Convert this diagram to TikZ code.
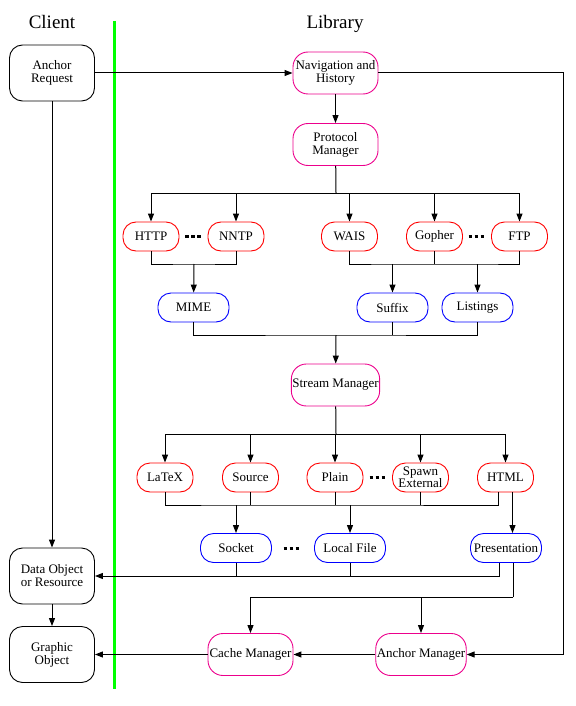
\documentclass[tikz,border=0pt]{standalone}
\usepackage{fontspec}
\setmainfont{Liberation Serif}
\newfontfamily\diagfont{Liberation Serif}
\usepackage{tikz}
\usetikzlibrary{arrows.meta, positioning}

\begin{document}
\begin{tikzpicture}[x=1pt, y=-1pt,
    clientblock/.style={rectangle, draw, line width=0.9pt, rounded corners=13pt, minimum width=85pt, minimum height=56pt, inner sep=1pt, font=\diagfont\fontsize{13}{13}\selectfont, align=center},
    managerblock/.style={rectangle, draw=magenta, line width=0.9pt, rounded corners=15pt, minimum width=85pt, minimum height=42pt, inner sep=1pt, font=\diagfont\fontsize{13}{13}\selectfont, align=center},
    formatblock/.style={rectangle, draw=red, line width=0.9pt, rounded corners=13pt, minimum width=56pt, minimum height=29pt, inner sep=1pt, font=\diagfont\fontsize{13}{12}\selectfont, align=center},
    streamblock/.style={rectangle, draw=blue, line width=0.9pt, rounded corners=13pt, minimum width=71pt, minimum height=29pt, inner sep=1pt, font=\diagfont\fontsize{13}{12}\selectfont, align=center},
    gapmark/.style={minimum width=17pt, minimum height=3pt, inner sep=0pt, path picture={\draw[line width=3pt, dash pattern=on 3.5pt off 2.5pt] (path picture bounding box.west) -- (path picture bounding box.east);}},
    title/.style={font=\diagfont\fontsize{19}{19}\selectfont},
    arrow/.style={-{Triangle[length=8pt, width=6pt]}, line width=1pt},
    line/.style={line width=1pt}
]
\useasboundingbox (0,0) rectangle (575,706);

% Column titles and the divider
\node[title] (client) at (52,22) {Client};
\node[title] (library) at (335,24) {Library};
\draw[green, line width=3pt] (114,21) -- (114,689);

% Client side
\node[clientblock] (areq) at (52,73) {Anchor\\Request};
\node[clientblock] (dobj) at (52,576) {Data Object\\or Resource};
\node[clientblock] (gobj) at (52,654.5) {Graphic\\Object};

% Managers
\node[managerblock] (nav) at (335.5,73) {Navigation and\\History};
\node[managerblock] (proto) at (335.5,144.5) {Protocol\\Manager};
\node[managerblock] (stream) at (335.5,385) {Stream Manager};
\node[managerblock] (cmgr) at (250.5,654.5) {Cache Manager};
\node[managerblock] (amgr) at (421,654.5) {Anchor Manager};

% Protocols
\node[formatblock] (http) at (151,236.5) {HTTP};
\node[formatblock] (nntp) at (236,236.5) {NNTP};
\node[formatblock] (wais) at (349.5,236.5) {WAIS};
\node[formatblock] (gopher) at (434.5,236.5) {Gopher};
\node[formatblock] (ftp) at (519.5,236.5) {FTP};
\node[gapmark] (gap1) at (193.5,236) {};
\node[gapmark] (gap2) at (477,236) {};

% Format recognition
\node[streamblock] (mime) at (193.5,307.5) {MIME};
\node[streamblock] (suffix) at (392.5,307.5) {Suffix};
\node[streamblock] (listings) at (477.5,307.5) {Listings};

% Converters
\node[formatblock] (latex) at (165,477.5) {LaTeX};
\node[formatblock] (source) at (250.5,477.5) {Source};
\node[formatblock] (plain) at (335,477.5) {Plain};
\node[formatblock] (spawn) at (420.5,477.5) {Spawn\\External};
\node[formatblock] (html) at (505.5,477.5) {HTML};
\node[gapmark] (gap3) at (378,477) {};

% Outputs
\node[streamblock] (socket) at (236,548) {Socket};
\node[streamblock] (lfile) at (350,548) {Local File};
\node[streamblock] (pres) at (506,548) {Presentation};
\node[gapmark] (gap4) at (292,548) {};

% Bus points
\coordinate (rt) at (563,73);
\coordinate (pbus) at (336,193);
\coordinate (mj) at (194,264);
\coordinate (sj) at (392.5,264);
\coordinate (lj) at (477.5,264);
\coordinate (sbus) at (336,335);
\coordinate (mbus) at (336,434);
\coordinate (skj) at (236,505);
\coordinate (lfj) at (350,505);
\coordinate (cbus) at (513,597);

% Client connections
\draw[arrow] (areq) -- (nav);
\draw[arrow] (areq) -- (dobj);
\draw[arrow] (dobj) -- (gobj);
\draw[arrow] (nav) -- (rt) |- (amgr);

% Navigation to protocols
\draw[arrow] (nav) -- (proto);
\draw[line] (proto) -- (pbus);
\foreach \n in {http, nntp, wais, gopher, ftp}
    \draw[arrow] (pbus) -| (\n);

% Protocols to recognition
\draw[line] (http) |- (mj) -| (nntp);
\draw[arrow] (mj) -- (mime);
\draw[line] (wais) |- (sj) -- (lj) -| (ftp);
\draw[line] (gopher) -- (gopher |- sj);
\draw[arrow] (sj) -- (suffix);
\draw[arrow] (lj) -- (listings);

% Recognition to stream manager
\draw[line] (mime) |- (sbus) -| (listings);
\draw[line] (suffix) -- (suffix |- sbus);
\draw[arrow] (sbus) -- (stream);
\draw[line] (stream) -- (mbus);
\foreach \n in {latex, source, plain, spawn, html}
    \draw[arrow] (mbus) -| (\n);

% Converters to outputs
\draw[line] (latex) |- (skj) -- (lfj) -| ([xshift=-7pt]html.south);
\foreach \n in {source, plain, spawn}
    \draw[line] (\n) -- (\n |- skj);
\draw[arrow] (skj) -- (socket);
\draw[arrow] (lfj) -- (lfile);
\draw[arrow] ([xshift=7pt]html.south) -- ([xshift=7pt]html.south |- pres.north);

% Outputs back to the client and the managers
\draw[arrow] ([xshift=-7pt]pres.south) |- (dobj);
\draw[line] (socket) -- (socket |- dobj);
\draw[line] (lfile) -- (lfile |- dobj);
\draw[line] ([xshift=7pt]pres.south) -- (cbus);
\draw[arrow] (cbus) -| (cmgr);
\draw[arrow] (cbus) -| (amgr);
\draw[arrow] (amgr) -- (cmgr);
\draw[arrow] (cmgr) -- (gobj);

\end{tikzpicture}
\end{document}
